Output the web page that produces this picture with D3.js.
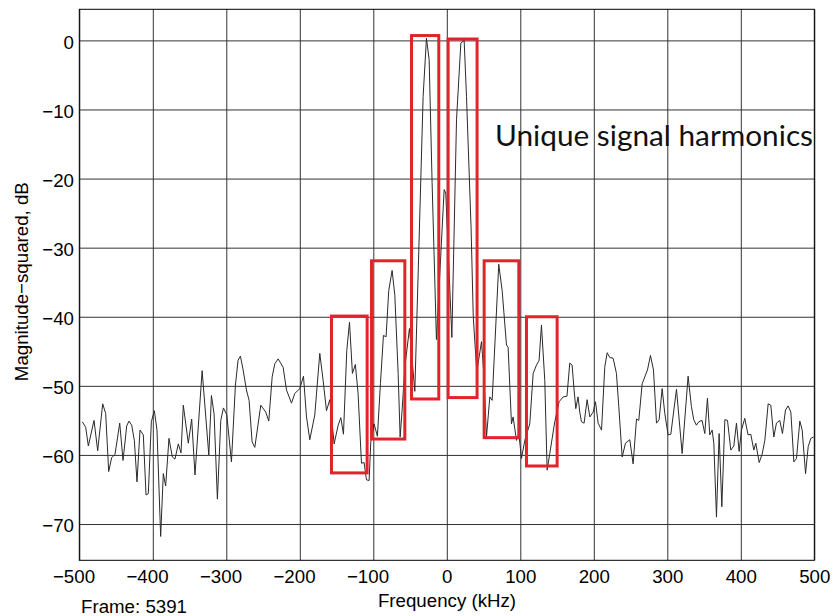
<!DOCTYPE html>
<html>
<head>
<meta charset="utf-8">
<script src="https://cdn.jsdelivr.net/npm/d3@7/dist/d3.min.js"></script>
<style>
  html, body { margin: 0; padding: 0; background: #fff; }
  svg { display: block; }
  .tick text { font-family: "Liberation Sans", Arial, Helvetica, sans-serif; font-size: 18.7px; fill: #000; }
  .label { font-family: "Liberation Sans", Arial, Helvetica, sans-serif; font-size: 18.7px; fill: #000; }
</style>
</head>
<body>
<svg id="chart" width="832" height="616"></svg>
<script>
// Spectrum trace: frequency (kHz) and magnitude-squared (dB)
const freqKHz = [
  -495.9,-491.3,-487.7,-480,-475,-468.2,-464.1,-460,-456,-451.4,-445,-440.5,-435.5,-432.4,-428.7,-425.1,-421.5,-417.4,-412.9,-409.2,
  -406.1,-402,-397.9,-394.3,-389.3,-385.7,-382.5,-378,-373.4,-369.8,-365.3,-361.6,-358.5,-351.7,-347.1,-342.6,
  -332.9,-323.8,-320.2,-316.6,-312.1,-307.5,-303.9,-299.3,-293,-287.6,-284,-280.8,-277.1,-272.6,-269,-264.9,-261.2,-253.1,-246.3,-242.2,
  -237.6,-234,-229.5,-222.7,-218.1,-211.3,-206.8,-200,-195,-190.9,-186.4,-179.6,
  -172.8,-168.3,-163.7,-159.2,-153.3,-147.8,-144.2,-140.6,-136.1,-132.4,-128.4,-124.4,-120.7,-116.1,-112.5,-109.3,-105.7,-103.4,-98.9,-94.4,
  -90.3,-86.2,-82.6,-79,-74.4,-70.7,-66.2,-63.5,-60.8,-57.1,-50.8,-43.5,
  -32.2,-27.7,-24,-20,-14.1,-3.6,-1.4,6.9,13.2,19.1,23.6,26.8,33,36,40.8,47.2,
  50.3,54,58.5,61.7,70.7,75.3,81.2,83.4,88,90.2,94.8,98,101.6,106.1,112.9,117.5,122,125.6,128.8,133.3,136.5,140.1,146.9,152.8,158.3,163.5,
  167.3,170.5,173.2,175.5,178.6,180.9,183.2,186.8,190.9,194.6,199.1,202.3,205.9,210.5,214.9,218.2,221.8,226.3,230.8,234,
  238.6,243.1,249,253.5,258.1,261.2,265.8,273,277.1,281.2,285.3,288.9,293,296.6,301.1,304.8,312.5,320.2,
  328.3,332.8,336,339.6,342.8,347.3,351,354.6,357.8,361,363.3,366.9,370.5,374.2,378.3,381.9,386.4,390.5,394.1,397.7,
  400.9,405.4,409.9,413.6,417.7,420.4,425,429,432.7,437.2,440.8,444.9,448.5,453,456.7,460.8,464.4,468.1,472.2,475.8,
  480.3,483.5,488.1,491.7,495.3,499
];
const magDb = [
  -55.2,-56,-58.7,-55,-59.4,-52.6,-54,-62.4,-60.4,-59.9,-55.4,-60.8,-55.8,-55.1,-55.7,-57.9,-63.9,-56.4,-57.1,-65.8,
  -65.6,-55.2,-53.6,-56.4,-71.8,-62.7,-64.5,-57.6,-60.3,-60.6,-58.4,-59.7,-52.8,-58.3,-54.8,-62.9,
  -47.8,-60,-51.4,-54.1,-66.4,-55,-53.2,-54.2,-61,-49.9,-46.3,-45.7,-47.7,-50.6,-52.1,-58.1,-58.9,-52.8,-53.8,-55.1,
  -48.7,-46.8,-46.1,-47.3,-50.6,-52.5,-51.1,-50.4,-48.6,-54.5,-57.8,-54.2,
  -45.3,-49.2,-53.6,-52,-58.4,-55.7,-54.6,-57,-44.9,-40.8,-48.2,-46.9,-51.1,-61.2,-61.1,-63.6,-63.7,-58.1,-55.5,-57.3,
  -49.7,-42.7,-42.9,-36.2,-33.3,-36.9,-48.2,-57.4,-53.5,-47.3,-41.7,-50.8,
  -8.1,0.3,-2.8,-20.6,-43.3,-21.6,-22.1,-43,-11.5,-0.4,0,-8.1,-27,-40,-48,-43.6,
  -48.2,-57.4,-51.6,-52.1,-32.4,-36.2,-44.1,-44.4,-55.5,-54.5,-57.9,-56.9,-60.5,-57.9,-55.5,-48.2,-47,-46.3,-41.2,-49.2,-62.2,-59.8,-55.2,-52.3,-51.6,-51.5,
  -46.7,-47,-50.6,-53.3,-51.6,-53.8,-55.2,-55.4,-52,-54.5,-53.8,-52.3,-55.4,-56.4,-47.3,-45.2,-45.9,-46,-48.2,-53,
  -60.3,-58.3,-57.8,-61.3,-54.8,-55,-49.7,-47.7,-45.6,-47.7,-55.4,-54.9,-50.4,-54,-57.1,-57,-50.5,-59.8,
  -48.6,-53,-54.9,-55.7,-55.2,-55,-56.9,-51.8,-57.1,-56.4,-58.3,-69,-56.9,-67.5,-54.9,-55,-59.3,-58.7,-55.4,-59.5,
  -56.4,-54.7,-57.1,-57,-59.3,-58.3,-61.1,-59.9,-57.9,-52.6,-52.8,-57.4,-55.4,-55,-56.9,-53.5,-52.9,-53.8,-61,-60.5,
  -55.1,-56.4,-62.7,-58.8,-57.6,-57.4
];

// Highlight boxes around the harmonic lobes: [fromKHz, toKHz, topDb, bottomDb]
const harmonicBoxes = [
  [-156.9, -108.4, -39.9, -62.6],
  [-102.4,  -57.1, -31.9, -57.7],
  [ -48.0,  -10.9,   0.7, -51.9],
  [   1.8,   41.2,   0.2, -51.7],
  [  50.8,   98.0, -31.9, -57.5],
  [ 108.4,  150.1, -40.0, -61.6]
];

const xTicks = [-500, -400, -300, -200, -100, 0, 100, 200, 300, 400, 500];
const yTicks = [0, -10, -20, -30, -40, -50, -60, -70];

const xTitle = "Frequency (kHz)";
const yTitle = "Magnitude\u2212squared, dB";
const frameNote = "Frame: 5391";
const annotation = "Unique signal harmonics";

// Plot area edges
const plotLeft = 79.3, plotRight = 814.3, plotTop = 9.3, plotBottom = 560.3;

const x = d3.scaleLinear().domain([-500, 500]).range([plotLeft, plotRight]);
const y = d3.scaleLinear().domain([-75.25, 4.5]).range([plotBottom, plotTop]);

const svg = d3.select("#chart");
const fmt = d => (d < 0 ? "\u2212" + Math.abs(d) : String(d));

// Grid
const gx = svg.append("g")
  .attr("transform", `translate(0,${plotBottom})`)
  .call(d3.axisBottom(x).tickValues(xTicks).tickSize(-(plotBottom - plotTop)).tickFormat(""));
gx.select(".domain").remove();
gx.selectAll("line").attr("stroke", "#333").attr("stroke-width", 1);

const gy = svg.append("g")
  .attr("transform", `translate(${plotLeft},0)`)
  .call(d3.axisLeft(y).tickValues(yTicks).tickSize(-(plotRight - plotLeft)).tickFormat(""));
gy.select(".domain").remove();
gy.selectAll("line").attr("stroke", "#333").attr("stroke-width", 1);

// Frame
svg.append("rect")
  .attr("x", plotLeft).attr("y", plotTop)
  .attr("width", plotRight - plotLeft).attr("height", plotBottom - plotTop)
  .attr("fill", "none").attr("stroke", "#000").attr("stroke-width", 1);

// Tick labels
const ax = svg.append("g")
  .attr("transform", `translate(0,${plotBottom})`)
  .call(d3.axisBottom(x).tickValues(xTicks).tickSize(0).tickPadding(9.7).tickFormat(fmt));
ax.select(".domain").remove();
ax.selectAll(".tick text").attr("dx", d => (d < 0 ? -5.8 : 0));

const ay = svg.append("g")
  .attr("transform", `translate(${plotLeft},0)`)
  .call(d3.axisLeft(y).tickValues(yTicks).tickSize(0).tickPadding(5.3).tickFormat(fmt));
ay.select(".domain").remove();
ay.selectAll(".tick text").attr("dy", "0.42em");

// Spectrum trace
const pts = freqKHz.map((f, i) => [f, magDb[i]]);
svg.append("path")
  .datum(pts)
  .attr("fill", "none")
  .attr("stroke", "#2a2a2a")
  .attr("stroke-width", 1)
  .attr("stroke-linejoin", "round")
  .attr("d", d3.line().x(d => x(d[0])).y(d => y(d[1])));

// Harmonic boxes
svg.append("g").selectAll("rect")
  .data(harmonicBoxes)
  .join("rect")
  .attr("x", d => x(d[0]))
  .attr("y", d => y(d[2]))
  .attr("width", d => x(d[1]) - x(d[0]))
  .attr("height", d => y(d[3]) - y(d[2]))
  .attr("fill", "none")
  .attr("stroke", "#e3232b")
  .attr("stroke-width", 3);

// Titles and notes
svg.append("text").attr("class", "label")
  .attr("x", x(0) + 0.2).attr("y", 606.5)
  .attr("text-anchor", "middle").text(xTitle);

svg.append("text").attr("class", "label")
  .attr("transform", `translate(28.3,281.7) rotate(-90)`)
  .attr("text-anchor", "middle").text(yTitle);

svg.append("text").attr("class", "label")
  .attr("x", 81).attr("y", 612.5).text(frameNote);

svg.append("text")
  .attr("x", 495).attr("y", 145.5)
  .attr("font-family", "Lato, 'Open Sans', sans-serif")
  .attr("font-size", 28.7)
  .attr("textLength", 318)
  .attr("lengthAdjust", "spacingAndGlyphs")
  .attr("fill", "#111")
  .text(annotation);
</script>
</body>
</html>
